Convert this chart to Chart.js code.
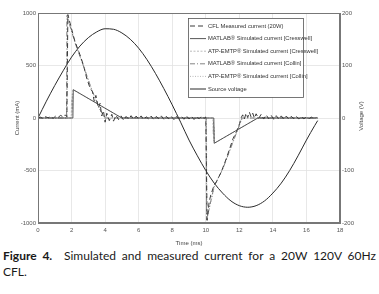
<!DOCTYPE html>
<html>
<head>
<meta charset="utf-8">
<script src="https://cdn.jsdelivr.net/npm/chart.js@4/dist/chart.umd.min.js"></script>
<style>
  html,body{margin:0;padding:0;background:#fff;width:379px;height:294px;overflow:hidden;}
  #wrap{position:absolute;left:0;top:0;width:379px;height:247px;}
  #cap{position:absolute;left:3px;top:248px;width:373px;font-family:Lato,"Open Sans",sans-serif;font-size:12px;line-height:15.6px;color:#1a1a1a;}
  #cap .l1{text-align:justify;text-align-last:justify;display:block;}
  #cap b{font-weight:700;}
</style>
</head>
<body>
<div id="wrap"><canvas id="c" width="379" height="247"></canvas></div>
<div id="cap"><div class="l1"><b>Figure 4.</b>&nbsp; Simulated and measured current for a 20W 120V 60Hz</div><div>CFL.</div></div>
<script>
// ---- data (time in ms, current in mA, voltage in V) ----
const xTicks = [0,2,4,6,8,10,12,14,16,18];
const currentTicks = [-1000,-500,0,500,1000];
const voltageTicks = [-200,-100,0,100,200];

const seriesLabels = [
  "CFL Measured current (20W)",
  "MATLAB\u00AE Simulated current [Cresswell]",
  "ATP-EMTP\u00AE Simulated current [Cresswell]",
  "MATLAB\u00AE Simulated current [Collin]",
  "ATP-EMTP\u00AE Simulated current [Collin]",
  "Source voltage"
];

const measuredCurrent = [[0,0],[0.15,8],[0.3,-6],[0.45,12],[0.6,2],[0.75,15],[0.9,-4],[1.05,18],[1.2,6],[1.35,25],[1.5,10],[1.62,30],[1.72,12],
[1.78,985],[1.95,880],[2.2,730],[2.5,603],[2.7,508],[2.9,381],[3.1,286],[3.25,250],[3.35,160],[3.45,215],[3.6,95],[3.7,140],[3.8,20],[3.9,70],[4.0,-40],[4.1,45],[4.25,-25],[4.4,35],[4.5,-30],[4.65,25],[4.8,-15],[4.95,20],[5.1,-20],[5.25,15],[5.4,-10],[5.55,22],[5.7,-12],[5.85,18],[6.0,-8],[6.15,20],[6.3,-15],[6.45,12],[6.6,-10],[6.75,18],[6.9,-14],[7.05,15],[7.2,-8],[7.35,20],[7.5,-12],[7.65,16],[7.8,-10],[7.95,14],[8.1,-15],[8.25,18],[8.4,-8],[8.55,15],[8.7,-12],[8.85,20],[9.0,-10],[9.15,16],[9.3,-14],[9.45,12],[9.6,-8],[9.75,18],[9.9,-5],[10.0,10],
[10.08,-975],[10.2,-800],[10.3,-733],[10.5,-638],[10.64,-606],[10.93,-511],[11.23,-384],[11.43,-289],[11.63,-194],[11.83,-130],[12.02,-51],[12.1,0],[12.2,30],[12.3,-10],[12.4,45],[12.5,5],[12.6,55],[12.7,10],[12.8,45],[12.9,0],[13.0,40],[13.15,-5],[13.3,35],[13.45,-10],[13.6,30],[13.75,-8],[13.9,25],[14.05,-12],[14.2,22],[14.35,-10],[14.5,20],[14.65,-12],[14.8,18],[14.95,-10],[15.1,16],[15.25,-8],[15.4,15],[15.55,-10],[15.7,12],[15.85,-8],[16.0,10],[16.15,-6],[16.3,8],[16.45,-5],[16.6,5]];

const matlabCresswell = [[0,0],[2.08,0],[2.1,270],[5.0,0],[10.48,0],[10.5,-241],[13.1,0],[16.67,0]];

const atpCresswell = [[0,0],[1.98,0],[2.0,180],[2.02,30],[2.04,230],[2.06,80],[2.08,260],[2.1,268],[5.0,0],
[10.42,0],[10.44,-150],[10.46,-30],[10.48,-220],[10.5,-90],[10.52,-240],[13.1,0],[16.67,0]];

const matlabCollin = [[0,0],[1.7,0],[1.72,975],[2.2,720],[2.7,500],[3.2,270],[3.7,80],[3.95,0],
[10.02,0],[10.05,-970],[10.5,-650],[11.0,-490],[11.5,-280],[12.0,-70],[12.15,0],[16.67,0]];

const atpCollin = [[0,0],[1.74,0],[1.76,960],[2.25,700],[2.75,480],[3.25,250],[3.75,60],[4.0,0],
[10.04,0],[10.07,-960],[10.55,-630],[11.05,-470],[11.55,-260],[12.05,-50],[12.2,0],[16.67,0]];

const sourceVoltage = [[0,0],[0.5,32],[1,62],[1.5,90],[2,116],[2.5,137],[3,153],[3.5,164],[4,170],[4.5,169],[5,162],[5.5,150],[6,133],[6.5,111],[7,85],[7.5,56],[8,25],[8.5,-8],[9,-42],[9.5,-72],[10,-100],[10.5,-124],[11,-143],[11.5,-158],[12,-167],[12.5,-170],[13,-167],[13.5,-158],[14,-143],[14.5,-124],[15,-100],[15.5,-72],[16,-42],[16.5,-14],[16.67,-5]];
</script>
<script>
const toXY = arr => arr.map(p => ({x:p[0], y:p[1]}));
const FONT = "'Liberation Sans Narrow','Liberation Sans',sans-serif";

const datasets = [
  {label:seriesLabels[0], data:toXY(measuredCurrent), borderColor:'#3a3a3a', borderWidth:1, borderDash:[5,3], yAxisID:'y'},
  {label:seriesLabels[1], data:toXY(matlabCresswell), borderColor:'#444', borderWidth:0.9, yAxisID:'y'},
  {label:seriesLabels[2], data:toXY(atpCresswell), borderColor:'#aaa', borderWidth:0.8, borderDash:[2,1.5], yAxisID:'y'},
  {label:seriesLabels[3], data:toXY(matlabCollin), borderColor:'#666', borderWidth:0.8, borderDash:[5,2,1,2], yAxisID:'y'},
  {label:seriesLabels[4], data:toXY(atpCollin), borderColor:'#999', borderWidth:0.7, borderDash:[1,1.5], yAxisID:'y'},
  {label:seriesLabels[5], data:toXY(sourceVoltage), borderColor:'#2a2a2a', borderWidth:1, yAxisID:'y2', tension:0.4, cubicInterpolationMode:'monotone'}
];

const frameLegend = {
  id:'frameLegend',
  afterDatasetsDraw(chart){
    const ctx = chart.ctx, a = chart.chartArea;
    ctx.save();
    ctx.strokeStyle = '#777'; ctx.lineWidth = 1;
    ctx.strokeRect(a.left+0.5, a.top+0.5, a.right-a.left-1, a.bottom-a.top-1);
    // legend box
    const bx = 188, by = 18, bw = 115, bh = 79;
    ctx.fillStyle = '#fff';
    ctx.fillRect(bx, by, bw, bh);
    ctx.strokeStyle = '#555'; ctx.lineWidth = 0.8;
    ctx.strokeRect(bx+0.5, by+0.5, bw, bh);
    ctx.font = '5.8px ' + FONT;
    ctx.textBaseline = 'middle'; ctx.textAlign = 'left';
    chart.data.datasets.forEach((ds, i) => {
      const y = 26 + i*12.6;
      ctx.beginPath();
      ctx.setLineDash(ds.borderDash || []);
      ctx.strokeStyle = ds.borderColor; ctx.lineWidth = ds.borderWidth;
      ctx.moveTo(bx+2, y); ctx.lineTo(bx+18, y); ctx.stroke();
      ctx.setLineDash([]);
      ctx.fillStyle = '#333';
      ctx.fillText(ds.label, bx+20, y);
    });
    // right axis title
    ctx.save();
    ctx.translate(361, 116);
    ctx.rotate(-Math.PI/2);
    ctx.textAlign = 'center';
    ctx.font = '6px ' + FONT;
    ctx.fillStyle = '#444';
    ctx.fillText('Voltage (V)', 0, 0);
    ctx.restore();
    ctx.restore();
  }
};

const tickFont = {family:FONT, size:6};
const plain = v => String(v);
new Chart(document.getElementById('c'), {
  type:'line',
  data:{datasets},
  options:{
    responsive:false, animation:false,
    layout:{padding:{top:13,left:0,right:0,bottom:0}},
    elements:{point:{radius:0}, line:{tension:0}},
    plugins:{legend:{display:false}, tooltip:{enabled:false}},
    scales:{
      x:{type:'linear', min:0, max:18,
        afterBuildTicks:s => { s.ticks = xTicks.map(v=>({value:v})); },
        ticks:{font:tickFont, color:'#555', padding:4, maxRotation:0, callback:plain},
        grid:{color:'#e2e2e2', drawTicks:false, lineWidth:0.8},
        border:{color:'#777'},
        title:{display:true, text:'Time (ms)', font:{family:FONT,size:6}, color:'#444', padding:0},
        afterFit:s => { s.height = 24; }
      },
      y:{type:'linear', position:'left', min:-1000, max:1000,
        afterBuildTicks:s => { s.ticks = currentTicks.map(v=>({value:v})); },
        ticks:{font:tickFont, color:'#555', padding:2, callback:plain},
        grid:{color:'#e2e2e2', drawTicks:false, lineWidth:0.8},
        border:{color:'#777'},
        title:{display:true, text:'Current (mA)', font:{family:FONT,size:6}, color:'#444', padding:{top:14,bottom:0}},
        afterFit:s => { s.width = 38; }
      },
      y2:{type:'linear', position:'right', min:-200, max:200,
        afterBuildTicks:s => { s.ticks = voltageTicks.map(v=>({value:v})); },
        ticks:{font:tickFont, color:'#555', padding:2, callback:plain},
        grid:{drawOnChartArea:false, drawTicks:false},
        border:{color:'#777'},
        afterFit:s => { s.width = 39; }
      }
    }
  },
  plugins:[frameLegend]
});
</script>
</body>
</html>
